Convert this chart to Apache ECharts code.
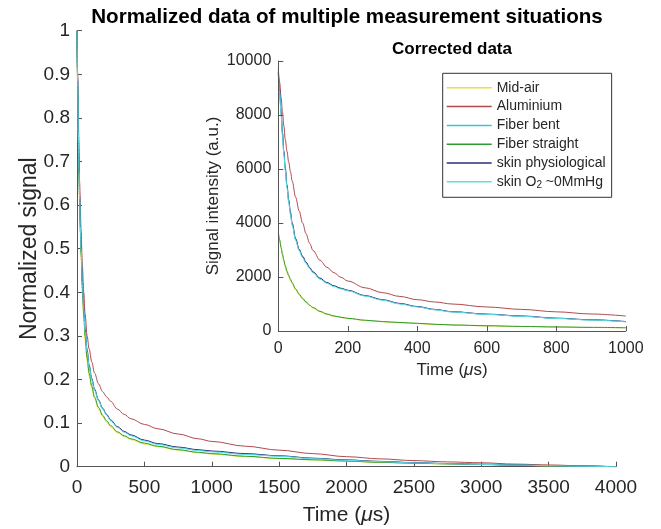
<!DOCTYPE html>
<html>
<head>
<meta charset="utf-8">
<script src="https://cdn.jsdelivr.net/npm/echarts@6/dist/echarts.min.js"></script>
<style>html,body{margin:0;padding:0;background:#fff;}#c{width:661px;height:529px;}</style>
</head>
<body>
<div id="c"></div>
<script>
// ---- Data ----
const seriesNames = ['Mid-air', 'Aluminium', 'Fiber bent', 'Fiber straight', 'skin physiological', 'skin O2 ~0MmHg'];
const mainXTicks = [0, 500, 1000, 1500, 2000, 2500, 3000, 3500, 4000];
const mainYTicks = [0, 0.1, 0.2, 0.3, 0.4, 0.5, 0.6, 0.7, 0.8, 0.9, 1];
const insetXTicks = [0, 200, 400, 600, 800, 1000];
const insetYTicks = [0, 2000, 4000, 6000, 8000, 10000];

// Main plot (normalized signal)
const timeMain = [0, 5, 10, 15, 20, 25, 30, 40, 50, 60, 75, 90, 110, 130, 160, 190, 220, 250, 300, 350, 400, 500, 600, 750, 900, 1000, 1250, 1500, 1750, 2000, 2250, 2500, 2750, 3000, 3250, 3500, 3750, 4000];
const midAirNorm = [1, 0.86, 0.75, 0.66, 0.59, 0.53, 0.48, 0.40, 0.34, 0.29, 0.242, 0.208, 0.179, 0.155, 0.132, 0.115, 0.102, 0.091, 0.078, 0.069, 0.062, 0.052, 0.046, 0.038, 0.032, 0.029, 0.023, 0.0185, 0.0155, 0.0125, 0.0098, 0.0078, 0.0063, 0.0048, 0.0034, 0.002, 0.001, 0];
const aluminiumNorm = [1, 0.90, 0.80, 0.72, 0.65, 0.59, 0.54, 0.46, 0.40, 0.35, 0.30, 0.27, 0.24, 0.215, 0.19, 0.172, 0.16, 0.15, 0.132, 0.12, 0.11, 0.097, 0.087, 0.075, 0.064, 0.058, 0.047, 0.038, 0.030, 0.023, 0.018, 0.014, 0.011, 0.009, 0.006, 0.004, 0.002, 0];
const fiberBentNorm = [1, 0.88, 0.77, 0.68, 0.61, 0.55, 0.50, 0.42, 0.36, 0.31, 0.265, 0.23, 0.20, 0.176, 0.152, 0.133, 0.119, 0.106, 0.091, 0.080, 0.072, 0.060, 0.052, 0.044, 0.038, 0.035, 0.029, 0.0245, 0.019, 0.015, 0.012, 0.009, 0.007, 0.0055, 0.004, 0.0025, 0.001, 0];
const fiberStraightNorm = [1, 0.87, 0.76, 0.67, 0.60, 0.54, 0.49, 0.41, 0.35, 0.30, 0.25, 0.215, 0.185, 0.16, 0.136, 0.118, 0.105, 0.094, 0.080, 0.071, 0.064, 0.054, 0.047, 0.039, 0.033, 0.030, 0.024, 0.019, 0.016, 0.013, 0.010, 0.008, 0.0065, 0.005, 0.0035, 0.002, 0.001, 0];
const skinPhysNorm = [1, 0.89, 0.78, 0.69, 0.62, 0.56, 0.51, 0.425, 0.365, 0.315, 0.268, 0.233, 0.202, 0.178, 0.153, 0.134, 0.12, 0.107, 0.092, 0.081, 0.073, 0.061, 0.053, 0.045, 0.039, 0.036, 0.030, 0.025, 0.0195, 0.0155, 0.0122, 0.0093, 0.0072, 0.0056, 0.0042, 0.0027, 0.0012, 0];
const skinO2Norm = [1, 0.88, 0.77, 0.68, 0.61, 0.55, 0.50, 0.42, 0.36, 0.31, 0.264, 0.229, 0.199, 0.175, 0.151, 0.132, 0.118, 0.105, 0.09, 0.079, 0.071, 0.059, 0.051, 0.043, 0.037, 0.034, 0.028, 0.024, 0.0185, 0.0145, 0.0115, 0.0088, 0.0068, 0.0053, 0.0038, 0.0024, 0.001, 0];

// Inset (corrected raw data)
const timeInset = [0, 4, 8, 12, 16, 20, 25, 30, 35, 40, 50, 60, 70, 80, 90, 100, 120, 140, 160, 180, 200, 250, 300, 350, 400, 450, 500, 600, 700, 800, 900, 1000];
const midAirRaw = [3620, 3320, 3040, 2790, 2570, 2370, 2170, 2010, 1870, 1745, 1520, 1335, 1180, 1050, 935, 845, 710, 612, 545, 497, 458, 390, 342, 307, 277, 244, 219, 189, 165, 145, 130, 116];
const aluminiumRaw = [9700, 9200, 8650, 8100, 7600, 7100, 6650, 6250, 5900, 5550, 4950, 4450, 4000, 3600, 3250, 2980, 2620, 2360, 2160, 1990, 1850, 1600, 1420, 1280, 1160, 1075, 1000, 890, 800, 710, 630, 555];
const fiberBentRaw = [9550, 8850, 8050, 7300, 6600, 6000, 5350, 4800, 4350, 3950, 3380, 3000, 2740, 2520, 2330, 2170, 1940, 1780, 1660, 1570, 1500, 1300, 1150, 1010, 900, 790, 710, 620, 550, 470, 410, 345];
const fiberStraightRaw = [3680, 3380, 3100, 2850, 2620, 2420, 2220, 2060, 1920, 1790, 1560, 1370, 1210, 1080, 960, 870, 730, 630, 560, 510, 470, 400, 350, 315, 285, 250, 225, 195, 170, 150, 135, 120];
const skinPhysRaw = [9600, 8900, 8100, 7350, 6650, 6050, 5400, 4850, 4400, 4000, 3420, 3030, 2770, 2550, 2355, 2190, 1960, 1795, 1675, 1585, 1510, 1310, 1160, 1020, 905, 800, 715, 625, 555, 475, 415, 350];
const skinO2Raw = [9500, 8800, 8000, 7250, 6550, 5950, 5300, 4760, 4310, 3910, 3350, 2970, 2715, 2495, 2310, 2150, 1920, 1765, 1645, 1555, 1490, 1290, 1140, 1000, 890, 785, 705, 615, 545, 465, 405, 340];

// ---- Build chart ----
const colors = ['#e4e43a', '#b24a4e', '#3ec6d0', '#2e9a32', '#2c2c78', '#62dfe6'];
const FONT = "'Liberation Sans', Arial, sans-serif";
const mainSets = [midAirNorm, aluminiumNorm, fiberBentNorm, fiberStraightNorm, skinPhysNorm, skinO2Norm];
const insetSets = [midAirRaw, aluminiumRaw, fiberBentRaw, fiberStraightRaw, skinPhysRaw, skinO2Raw];
const pair = (ts, vs) => ts.map((t, i) => [t, vs[i]]);

const series = [];
mainSets.forEach((vals, k) => series.push({
  name: seriesNames[k], type: 'line', xAxisIndex: 0, yAxisIndex: 0,
  data: pair(timeMain, vals), symbol: 'none', showSymbol: false, smooth: 0.35, smoothMonotone: 'x',
  color: colors[k], itemStyle: {color: colors[k]},
  lineStyle: {color: colors[k], width: 1}, silent: true, animation: false, z: 2
}));
insetSets.forEach((vals, k) => series.push({
  name: seriesNames[k], type: 'line', xAxisIndex: 1, yAxisIndex: 1,
  data: pair(timeInset, vals), symbol: 'none', showSymbol: false, smooth: 0.35, smoothMonotone: 'x',
  color: colors[k], itemStyle: {color: colors[k]},
  lineStyle: {color: colors[k], width: 1}, silent: true, animation: false, z: 5
}));

const axisCommon = () => ({
  axisLine: {show: true, lineStyle: {color: '#555555', width: 1}},
  axisTick: {show: true, inside: true, length: 5, lineStyle: {color: '#555555'}},
  splitLine: {show: false},
  nameMoveOverlap: false
});
const timeName = (fs) => ({
  name: 'Time ({mu|μ}s)',
  nameLocation: 'middle',
  nameTextStyle: {color: '#262626', fontSize: fs, fontFamily: FONT,
    rich: {mu: {fontStyle: 'italic', fontSize: fs, fontFamily: FONT, color: '#262626'}}}
});
const plain = (v) => String(Math.round(v * 1000) / 1000);

const option = {
  backgroundColor: '#ffffff',
  animation: false,
  title: [
    {text: 'Normalized data of multiple measurement situations', left: 347, top: 7, textAlign: 'center', padding: 0,
     textStyle: {fontSize: 20.6, fontWeight: 'bold', color: '#000', fontFamily: FONT}},
    {text: 'Corrected data', left: 452, top: 41, textAlign: 'center', padding: 0,
     textStyle: {fontSize: 17, fontWeight: 'bold', color: '#000', fontFamily: FONT}}
  ],
  grid: [
    {left: 77, top: 30.7, width: 539, height: 436, containLabel: false, outerBoundsMode: 'none'},
    {left: 278.3, top: 61, width: 347.5, height: 270, containLabel: false, outerBoundsMode: 'none',
     show: true, backgroundColor: '#ffffff', borderWidth: 0, z: 4}
  ],
  legend: {
    data: seriesNames, orient: 'vertical', left: 442.7, top: 73.3,
    itemWidth: 45, itemHeight: 1.5, itemGap: 3.8, itemTextGap: 5.6, icon: 'rect',
    borderColor: '#333', borderWidth: 1, padding: [7, 6, 7, 4], backgroundColor: '#fff',
    selectedMode: false, z: 10,
    textStyle: {fontSize: 14, lineHeight: 15, color: '#262626', fontFamily: FONT,
      rich: {sub: {fontSize: 10, fontFamily: FONT, color: '#262626', padding: [7, 0, 0, 0]}}},
    formatter: (n) => n === 'skin O2 ~0MmHg' ? 'skin O{sub|2} ~0MmHg' : n
  },
  xAxis: [
    Object.assign({type: 'value', gridIndex: 0, min: mainXTicks[0], max: mainXTicks[mainXTicks.length - 1],
      interval: mainXTicks[1] - mainXTicks[0], nameGap: 38}, axisCommon(), timeName(21),
      {axisLabel: {color: '#262626', fontSize: 19, fontFamily: FONT, margin: 12, formatter: plain}}),
    Object.assign({type: 'value', gridIndex: 1, min: insetXTicks[0], max: insetXTicks[insetXTicks.length - 1],
      interval: insetXTicks[1] - insetXTicks[0], nameGap: 30.5, z: 6}, axisCommon(), timeName(17),
      {axisLabel: {color: '#262626', fontSize: 16, fontFamily: FONT, margin: 10, formatter: plain}})
  ],
  yAxis: [
    Object.assign({type: 'value', gridIndex: 0, min: mainYTicks[0], max: mainYTicks[mainYTicks.length - 1],
      interval: 0.1, name: 'Normalized signal', nameLocation: 'middle', nameGap: 35.5,
      nameTextStyle: {color: '#262626', fontSize: 23, fontFamily: FONT}}, axisCommon(),
      {axisLabel: {color: '#262626', fontSize: 19, fontFamily: FONT, margin: 7,
        formatter: (v) => String(Math.round(v * 10) / 10)}}),
    Object.assign({type: 'value', gridIndex: 1, min: insetYTicks[0], max: insetYTicks[insetYTicks.length - 1],
      interval: insetYTicks[1] - insetYTicks[0], name: 'Signal intensity (a.u.)', nameLocation: 'middle', nameGap: 56.5, z: 6,
      nameTextStyle: {color: '#262626', fontSize: 17, fontFamily: FONT}}, axisCommon(),
      {axisLabel: {color: '#262626', fontSize: 16, fontFamily: FONT, margin: 7, formatter: plain}})
  ],
  series: series
};

const chart = echarts.init(document.getElementById('c'), null, {renderer: 'canvas'});
chart.setOption(option);
</script>
</body>
</html>
